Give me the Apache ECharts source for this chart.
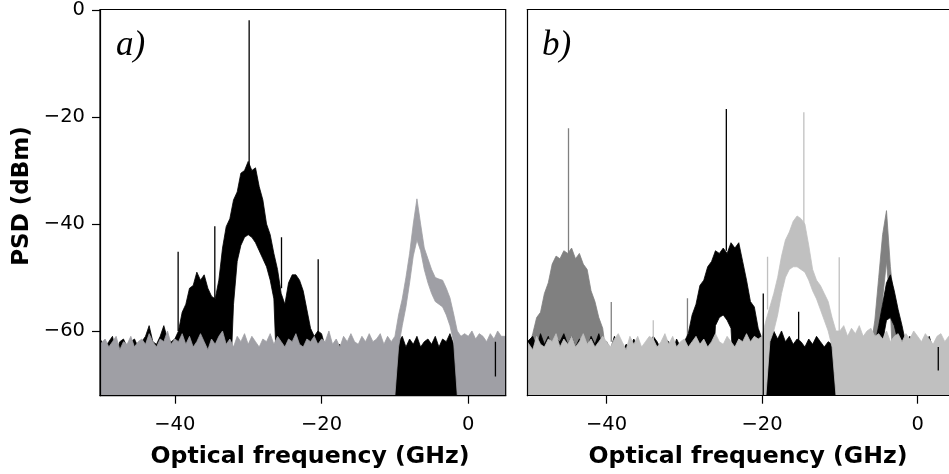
<!DOCTYPE html>
<html>
<head>
<meta charset="utf-8">
<script src="https://cdn.jsdelivr.net/npm/echarts/dist/echarts.min.js"></script>
<style>
  html, body { margin: 0; padding: 0; background: #fff; }
  #chart { width: 949px; height: 474px; }
</style>
</head>
<body>
<div id="chart"></div>
<script>
// sampling grid (GHz), shared by all traces
var xs = [-50.2,-49.5,-49,-48.5,-48,-47.5,-47,-46.5,-46,-45.5,
  -45,-44.5,-44,-43.5,-43,-42.5,-42,-41.5,-41,-40.5,
  -40,-39.5,-39,-38.5,-38,-37.5,-37,-36.5,-36,-35.5,
  -35,-34.5,-34,-33.5,-33,-32.5,-32,-31.5,-31,-30.5,
  -30,-29.5,-29,-28.5,-28,-27.5,-27,-26.5,-26,-25.5,
  -25,-24.5,-24,-23.5,-23,-22.5,-22,-21.5,-21,-20.5,
  -20,-19.5,-19,-18.5,-18,-17.5,-17,-16.5,-16,-15.5,
  -15,-14.5,-14,-13.5,-13,-12.5,-12,-11.5,-11,-10.5,
  -10,-9.5,-9,-8.5,-8,-7.5,-7,-6.5,-6,-5.5,
  -5,-4.5,-4,-3.5,-3,-2.5,-2,-1.5,-1,-0.5,
  0,0.5,1,1.5,2,2.5,3,3.5,4,4.5,
  5.1];

// panel a) : grey trace (upper / lower edge of the drawn band, dBm)
var aGreyHi = [-62.5,-61.5,-63,-62,-61,-63.5,-62,-62.5,-61,-63,
  -62,-61.5,-62.5,-60.5,-62,-63,-61.5,-62,-60,-62.5,
  -61.5,-62,-60.5,-62.5,-61,-63,-62,-60.5,-62,-63.5,
  -61.5,-62.5,-61,-60,-62.5,-61.5,-63,-61,-62,-60.5,
  -62.5,-61,-62,-63,-61.5,-62,-60.5,-62.5,-61,-62,
  -63,-61.5,-62,-60.5,-62.5,-63,-61.5,-62,-61,-62.5,
  -61.5,-62,-60,-62.5,-61.5,-63,-61,-62,-60.5,-62,
  -62.5,-61,-62,-60.5,-62,-61.5,-60.5,-62.5,-61,-62,
  -61,-57,-54,-50,-45.5,-40,-35.3,-40,-44.5,-46.5,
  -48.5,-50,-50.3,-50.5,-52,-53.8,-56.8,-60,-61,-60.5,
  -61,-60,-61.5,-60.5,-61,-62,-60.5,-61.5,-60,-61,
  -61];
var aGreyLo = [-72,-72,-72,-72,-72,-72,-72,-72,-72,-72,
  -72,-72,-72,-72,-72,-72,-72,-72,-72,-72,
  -72,-72,-72,-72,-72,-72,-72,-72,-72,-72,
  -72,-72,-72,-72,-72,-72,-72,-72,-72,-72,
  -72,-72,-72,-72,-72,-72,-72,-72,-72,-72,
  -72,-72,-72,-72,-72,-72,-72,-72,-72,-72,
  -72,-72,-72,-72,-72,-72,-72,-72,-72,-72,
  -72,-72,-72,-72,-72,-72,-72,-72,-72,-72,
  -72,-63,-59,-55.5,-51,-46,-43,-45,-48.5,-51,
  -53,-54.5,-55,-55.5,-57,-59,-62,-72,-72,-72,
  -72,-72,-72,-72,-72,-72,-72,-72,-72,-72,
  -72];
// panel a) : black trace
var aBlackHi = [-61.5,-63,-62,-61,-64,-62,-61.5,-63,-62,-61.5,
  -63,-62,-61,-59,-62,-62.5,-61,-59,-61.5,-62,
  -61.5,-60,-56.5,-55,-52,-51.5,-49,-50.5,-49.5,-52,
  -53.5,-54,-50.5,-44.5,-40.5,-39,-35.5,-34,-30.5,-30,
  -28.3,-30,-29.5,-33,-35.5,-40,-42,-45.5,-48.5,-53,
  -55,-51,-49.5,-49.5,-50.5,-52.5,-56,-59.5,-61,-60,
  -60.5,-63,-62,-64,-63,-62.5,-64,-63,-63.5,-64,
  -63.5,-64,-63,-62.5,-64,-63,-64.5,-63,-64,-63.5,
  -64,-62,-61,-63,-61.5,-62.5,-61,-63,-62,-61.5,
  -62.5,-61,-63,-61.5,-62,-60.5,-62.5,-63,-66,-65,
  -65,-64,-65.5,-64,-66,-65,-64.5,-65,-64,-65,
  -64.5];
var aBlackLo = [-72,-72,-72,-72,-72,-72,-72,-72,-72,-72,
  -72,-72,-72,-72,-72,-72,-72,-72,-72,-72,
  -72,-72,-72,-72,-72,-72,-72,-72,-72,-72,
  -72,-72,-72,-72,-72,-72,-55,-47,-44,-42.5,
  -42,-42.5,-43.5,-45,-46.5,-48,-50.5,-54,-72,-72,
  -72,-72,-72,-72,-72,-72,-72,-72,-72,-72,
  -72,-72,-72,-72,-72,-72,-72,-72,-72,-72,
  -72,-72,-72,-72,-72,-72,-72,-72,-72,-72,
  -72,-72,-72,-72,-72,-72,-72,-72,-72,-72,
  -72,-72,-72,-72,-72,-72,-72,-72,-72,-72,
  -72,-72,-72,-72,-72,-72,-72,-72,-72,-72,
  -72];
// narrow lines: [x, from, to]
var aBlackSpikes = [[-29.87,-40,-1.9],[-39.55,-60,-45.2],[-34.55,-54,-40.4],
  [-25.46,-52,-42.5],[-20.46,-61,-46.6],[3.7,-68.5,-62]];

// panel b) : mid grey trace
var bMidHi = [-64,-60.5,-57.5,-56.5,-53,-51,-47.5,-46,-46.5,-45,
  -45.5,-44.5,-46.5,-45.5,-47.5,-48.5,-52.5,-54.5,-57.5,-59.5,
  -65,-65,-65,-65,-65,-65,-65,-65,-65,-65,
  -65,-65,-65,-65,-65,-65,-65,-65,-65,-65,
  -65,-65,-65,-65,-65,-65,-65,-65,-65,-65,
  -65,-65,-65,-65,-65,-65,-65,-65,-65,-65,
  -65,-65,-65,-65,-65,-65,-65,-65,-65,-65,
  -65,-65,-65,-65,-65,-65,-65,-65,-65,-65,
  -65,-65,-65,-65,-65,-65,-65,-65,-63,-58,
  -50,-42,-37.5,-48,-55,-60,-65,-65,-65,-65,
  -65,-65,-65,-65,-65,-65,-65,-65,-65,-65,
  -65];
var bMidLo = [-72,-72,-72,-72,-72,-72,-72,-72,-72,-72,
  -72,-72,-72,-72,-72,-72,-72,-72,-72,-72,
  -72,-72,-72,-72,-72,-72,-72,-72,-72,-72,
  -72,-72,-72,-72,-72,-72,-72,-72,-72,-72,
  -72,-72,-72,-72,-72,-72,-72,-72,-72,-72,
  -72,-72,-72,-72,-72,-72,-72,-72,-72,-72,
  -72,-72,-72,-72,-72,-72,-72,-72,-72,-72,
  -72,-72,-72,-72,-72,-72,-72,-72,-72,-72,
  -72,-72,-72,-72,-72,-72,-72,-72,-72,-72,
  -62,-54,-47,-56,-72,-72,-72,-72,-72,-72,
  -72,-72,-72,-72,-72,-72,-72,-72,-72,-72,
  -72];
// panel b) : black trace
var bBlackHi = [-62,-61,-63,-60.5,-62.5,-61,-63.5,-61.5,-62,-60.5,
  -62.5,-61,-63,-61.5,-62,-63.5,-61,-62.5,-60.5,-63,
  -62,-63.5,-61,-62,-64,-62.5,-63,-61.5,-63,-64,
  -62.5,-63,-61,-62,-63.5,-61.5,-62,-64,-61.5,-63,
  -62,-60.5,-57,-55,-51.5,-50.5,-48,-47,-45,-45.5,
  -44.5,-45.5,-43.5,-44.5,-43.5,-47,-50.5,-54.5,-55.5,-59.5,
  -61.5,-63,-61,-60,-61.5,-60,-62,-61,-62.5,-61.5,
  -62,-63,-61.5,-62.5,-61,-62,-63,-62,-62.5,-64,
  -63,-64,-62.5,-63.5,-64,-62,-63,-64.5,-63,-62.5,
  -59,-55,-51,-49.5,-52.5,-56,-59,-62.5,-61,-62,
  -61.5,-63,-62,-61,-63.5,-62,-63,-64,-62.5,-63,
  -63];
var bBlackLo = [-72,-72,-72,-72,-72,-72,-72,-72,-72,-72,
  -72,-72,-72,-72,-72,-72,-72,-72,-72,-72,
  -72,-72,-72,-72,-72,-72,-72,-72,-72,-72,
  -72,-72,-72,-72,-72,-72,-72,-72,-72,-72,
  -72,-72,-72,-72,-72,-72,-72,-72,-59,-57.5,
  -57,-58,-59.5,-72,-72,-72,-72,-72,-72,-72,
  -72,-72,-72,-72,-72,-72,-72,-72,-72,-72,
  -72,-72,-72,-72,-72,-72,-72,-72,-72,-72,
  -72,-72,-72,-72,-72,-72,-72,-72,-72,-72,
  -72,-62,-58,-57.5,-59,-62,-72,-72,-72,-72,
  -72,-72,-72,-72,-72,-72,-72,-72,-72,-72,
  -72];
// panel b) : light grey trace
var bLightHi = [-62,-63.5,-61,-62.5,-63,-61.5,-62,-60.5,-63,-61.5,
  -62.5,-61,-63,-62,-60.5,-62.5,-61.5,-63,-62,-61,
  -62,-63,-61.5,-60.5,-62,-63.5,-61,-62.5,-61,-63,
  -62,-61,-61.5,-63,-62,-60.5,-62.5,-61,-63,-62,
  -61.5,-63,-62,-61,-62.5,-61.5,-63,-62,-60.5,-62,
  -62.5,-61,-62,-63,-61.5,-62,-60.5,-62,-61,-61.5,
  -61,-58,-55.5,-53,-50,-46,-43,-41.5,-39.5,-38.5,
  -39,-40,-44,-48.5,-50.5,-51.5,-53,-54.5,-57.5,-60,
  -60,-59,-61,-59.5,-60.5,-59,-61,-60,-59.5,-61,
  -60.5,-61.5,-60,-62,-61,-60.5,-62,-60.5,-61.5,-60,
  -61,-62,-60.5,-61.5,-62.5,-61,-60.5,-62,-61,-61.5,
  -62];
var bLightLo = [-72,-72,-72,-72,-72,-72,-72,-72,-72,-72,
  -72,-72,-72,-72,-72,-72,-72,-72,-72,-72,
  -72,-72,-72,-72,-72,-72,-72,-72,-72,-72,
  -72,-72,-72,-72,-72,-72,-72,-72,-72,-72,
  -72,-72,-72,-72,-72,-72,-72,-72,-72,-72,
  -72,-72,-72,-72,-72,-72,-72,-72,-72,-72,
  -72,-72,-62,-60,-57,-53,-50,-48.5,-48,-48,
  -48.5,-49,-50.5,-52.5,-54,-56,-58,-60,-63,-72,
  -72,-72,-72,-72,-72,-72,-72,-72,-72,-72,
  -72,-72,-72,-72,-72,-72,-72,-72,-72,-72,
  -72,-72,-72,-72,-72,-72,-72,-72,-72,-72,
  -72];
var bMidSpikes = [[-44.9,-46,-22.1],[-39.4,-62,-54.6],[-29.6,-61,-53.9]];
var bBlackSpikes = [[-24.6,-45,-18.5],[-19.85,-72,-53],[-15.3,-62,-56.4],[2.66,-67.4,-63]];
var bLightSpikes = [[-14.63,-40,-19.1],[-19.3,-56,-46.1],[-10.08,-60,-46.2],[-34,-62,-58]];

var xTicks = [-40, -20, 0];
var yTicks = [-60, -40, -20, 0];

var GREY_A = '#9f9fa5', BLACK = '#000000', MID = '#808080', LIGHT = '#c0c0c0';

function minusFmt(v) {
    return v < 0 ? '\u2212' + Math.abs(v) : String(v);
}

// one filled band per trace: upper edge forward, lower edge back
function band(gi, hi, lo, color) {
    return {
        type: 'custom', xAxisIndex: gi, yAxisIndex: gi, silent: true, clip: true,
        data: [[xs[0], lo[0]]],
        renderItem: function(params, api) {
            var pts = [];
            for (var i = 0; i < xs.length; i++) pts.push(api.coord([xs[i], hi[i]]));
            for (var j = xs.length - 1; j >= 0; j--) pts.push(api.coord([xs[j], lo[j]]));
            return {
                type: 'polygon',
                shape: { points: pts },
                style: { fill: color, stroke: color, lineWidth: 0.8 }
            };
        }
    };
}

function spikes(gi, arr, color) {
    return {
        type: 'custom', xAxisIndex: gi, yAxisIndex: gi, silent: true, clip: true,
        encode: { x: 0, y: [1, 2] },
        data: arr,
        renderItem: function(params, api) {
            var a = api.coord([api.value(0), api.value(1)]);
            var b = api.coord([api.value(0), api.value(2)]);
            return {
                type: 'line',
                shape: { x1: a[0], y1: a[1], x2: b[0], y2: b[1] },
                style: { stroke: color, lineWidth: 1.3 }
            };
        }
    };
}

function xAxisFor(gi, max) {
    return {
        type: 'value', gridIndex: gi, min: -50.2, max: max, z: 10,
        axisLine: { show: true, onZero: false, lineStyle: { color: '#000', width: 1.2 } },
        axisTick: { show: true, customValues: xTicks, length: 8, lineStyle: { color: '#000', width: 1.2 } },
        axisLabel: {
            customValues: xTicks, formatter: minusFmt, margin: 19,
            fontFamily: 'DejaVu Sans', fontSize: 19.5, color: '#000'
        },
        splitLine: { show: false }
    };
}

var myChart = echarts.init(document.getElementById('chart'), null, { renderer: 'canvas' });

var series = [
    band(0, aBlackHi, aBlackLo, BLACK),
    band(0, aGreyHi, aGreyLo, GREY_A),
    spikes(0, aBlackSpikes, BLACK),
    band(1, bMidHi, bMidLo, MID),
    spikes(1, bMidSpikes, MID),
    band(1, bBlackHi, bBlackLo, BLACK),
    band(1, bLightHi, bLightLo, LIGHT),
    spikes(1, bBlackSpikes, BLACK),
    spikes(1, bLightSpikes, LIGHT)
];

var option = {
    animation: false,
    backgroundColor: '#fff',
    grid: [
        { left: 100, top: 9.5, width: 405.7, height: 386.2, show: true, z: 10,
          borderColor: '#000', borderWidth: 1.2, backgroundColor: 'transparent' },
        // right panel runs past the picture's right edge
        { left: 527.3, top: 9.5, width: 421.7, height: 386.2, show: false }
    ],
    xAxis: [
        xAxisFor(0, 5.1),
        xAxisFor(1, 4.04),
        {
            type: 'value', gridIndex: 1, position: 'top', min: -50.2, max: 4.04, z: 10,
            axisLine: { show: true, onZero: false, lineStyle: { color: '#000', width: 1.2 } },
            axisTick: { show: false }, axisLabel: { show: false }, splitLine: { show: false }
        }
    ],
    yAxis: [
        {
            type: 'value', gridIndex: 0, min: -72.1, max: 0.1, z: 10,
            axisLine: { show: true, onZero: false, lineStyle: { color: '#000', width: 1.2 } },
            axisTick: { show: true, customValues: yTicks, length: 8, lineStyle: { color: '#000', width: 1.2 } },
            axisLabel: {
                customValues: yTicks, formatter: minusFmt, margin: 15,
                fontFamily: 'DejaVu Sans', fontSize: 19.5, color: '#000'
            },
            splitLine: { show: false }
        },
        {
            type: 'value', gridIndex: 1, min: -72.1, max: 0.1, z: 10,
            axisLine: { show: true, onZero: false, lineStyle: { color: '#000', width: 1.2 } },
            axisTick: { show: false },
            axisLabel: { show: false },
            splitLine: { show: false }
        }
    ],
    graphic: [
        { type: 'text', z: 100, x: 116, y: 46, style: { text: 'a)', font: 'italic 35px "Liberation Serif"', fill: '#000', verticalAlign: 'middle' } },
        { type: 'text', z: 100, x: 542, y: 46, style: { text: 'b)', font: 'italic 35px "Liberation Serif"', fill: '#000', verticalAlign: 'middle' } },
        { type: 'text', z: 100, x: 22.5, y: 196, rotation: Math.PI / 2,
          style: { text: 'PSD (dBm)', font: 'bold 23px "DejaVu Sans"', fill: '#000', align: 'center', verticalAlign: 'middle' } },
        { type: 'text', z: 100, x: 310, y: 457,
          style: { text: 'Optical frequency (GHz)', font: 'bold 23.6px "DejaVu Sans"', fill: '#000', align: 'center', verticalAlign: 'middle' } },
        { type: 'text', z: 100, x: 748, y: 457,
          style: { text: 'Optical frequency (GHz)', font: 'bold 23.6px "DejaVu Sans"', fill: '#000', align: 'center', verticalAlign: 'middle' } }
    ],
    series: series
};

myChart.setOption(option);
</script>
</body>
</html>
